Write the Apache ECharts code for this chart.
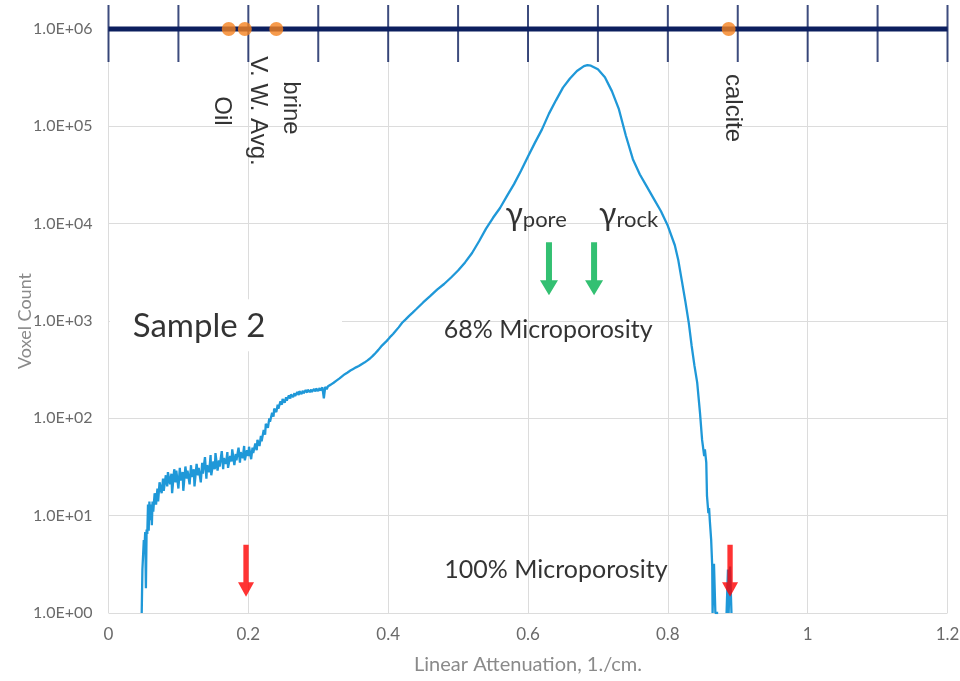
<!DOCTYPE html>
<html>
<head>
<meta charset="utf-8">
<script src="https://cdn.jsdelivr.net/npm/echarts@6/dist/echarts.min.js"></script>
<style>
html,body{margin:0;padding:0;background:#fff;}
#chart{width:960px;height:681px;}
</style>
</head>
<body>
<div id="chart"></div>
<script>
// ---------- data ----------
// histogram: [linear attenuation (1/cm), voxel count]
const histogram = [
[0.0475,1],[0.0485,2.8],[0.0495,2.7],[0.0505,5.6],[0.0515,4.8],[0.0525,6.8],[0.0535,1.8],[0.0545,7.2],[0.0555,6.5],[0.0565,13],[0.0575,7],[0.0585,14],[0.0595,9],
[0.061,13],[0.062,8],[0.063,14],[0.064,11],[0.066,17],[0.068,13],[0.070,19],[0.071,14],[0.073,22],[0.076,17],[0.078,24],[0.079,18],
[0.082,26],[0.084,20],[0.085,28],[0.088,21],[0.090,27],[0.091,17],[0.094,30],[0.096,22],[0.097,29],[0.100,19],
[0.102,31],[0.103,23],[0.106,28],[0.107,18],[0.110,32],[0.112,24],[0.113,29],[0.116,21],[0.118,33],[0.119,25],
[0.122,30],[0.123,20],[0.126,34],[0.128,26],[0.129,31],[0.132,22],[0.134,35],[0.135,27],[0.138,40],[0.140,24],
[0.141,33],[0.144,28],[0.146,42],[0.147,26],[0.150,36],[0.152,30],[0.153,44],[0.156,29],[0.158,37],[0.159,32],
[0.162,46],[0.164,30],[0.165,39],[0.168,34],[0.170,45],[0.171,31],[0.174,41],[0.176,36],[0.177,48],[0.180,33],
[0.182,43],[0.183,37],[0.186,50],[0.188,35],[0.189,45],[0.192,39],[0.194,52],[0.195,37],[0.198,47],[0.200,41],
[0.201,51],[0.204,38],[0.206,50],[0.207,44],[0.210,55],[0.212,47],[0.213,60],[0.216,52],[0.218,66],[0.219,58],
[0.222,76],[0.224,68],[0.225,88],[0.228,80],[0.230,100],[0.231,92],[0.234,114],[0.236,104],[0.237,126],[0.240,116],
[0.242,138],[0.243,126],[0.246,150],[0.248,138],[0.249,158],[0.252,145],[0.254,165],[0.255,152],[0.258,172],[0.260,160],
[0.261,176],[0.264,165],[0.266,181],[0.267,170],[0.270,186],[0.272,174],[0.273,190],[0.276,178],[0.278,192],[0.279,181],
[0.282,195],[0.284,184],[0.285,197],[0.288,186],[0.290,198],[0.291,187],[0.294,200],[0.296,189],[0.297,203],[0.300,191],
[0.302,205],[0.303,193],[0.306,208],[0.308,160],[0.310,210],[0.312,199],[0.314,214],[0.316,205],[0.318,222],[0.320,212],
[0.322,232],[0.324,222],[0.326,244],[0.328,233],[0.330,256],[0.332,246],[0.334,270],[0.336,259],[0.338,284],[0.340,272],
[0.342,296],[0.344,287],[0.346,310],[0.348,300],[0.350,322],[0.352,312],[0.354,334],[0.356,326],[0.358,345],[0.360,338],
[0.362,360],[0.364,352],[0.366,374],[0.368,366],[0.370,392],[0.372,384],[0.374,412],[0.376,404],[0.378,438],[0.380,448],
[0.382,470],[0.384,462],[0.386,505],[0.388,522],[0.390,548],[0.392,570],[0.394,586],[0.396,604],[0.398,625],[0.401,660],
[0.404,700],[0.407,735],[0.41,780],[0.415,860],[0.42,960],[0.425,1040],[0.43,1130],[0.435,1220],[0.44,1320],[0.45,1550],
[0.46,1800],[0.47,2100],[0.48,2400],[0.49,2800],[0.50,3300],[0.51,4000],[0.52,5000],[0.53,6600],[0.54,8900],[0.55,11500],
[0.56,14500],[0.57,19300],[0.58,25500],[0.59,35000],[0.60,49000],[0.61,68000],[0.62,93000],[0.63,135000],[0.64,185000],
[0.65,250000],[0.66,310000],[0.67,370000],[0.68,415000],[0.685,425000],[0.69,420000],[0.70,385000],[0.71,320000],[0.72,230000],
[0.73,150000],[0.74,80000],[0.75,46000],[0.76,32000],[0.77,24000],[0.78,18000],[0.79,13500],[0.80,9500],[0.81,6000],
[0.815,4200],[0.82,2600],[0.825,1600],[0.83,950],[0.834,560],[0.838,350],[0.842,233],[0.846,114],[0.849,60],[0.852,41],
[0.853,48],[0.855,35],[0.856,16],[0.858,10.6],[0.859,12],[0.860,9],[0.862,5.6],[0.8635,3],[0.864,1],[0.866,3.2],
[0.868,1],[0.872,1],[0.876,'-'],[0.884,1],[0.886,2.8],[0.887,1],[0.889,3],[0.891,1],[0.892,'-']
];

// reference phases on the top scale
const phaseNames = ['Oil', 'V. W. Avg.', 'brine', 'calcite'];
const phaseAttenuation = [0.172, 0.195, 0.24, 0.887];
const topScaleCount = 1e6;
const topScaleTicks = [0,0.1,0.2,0.3,0.4,0.5,0.6,0.7,0.8,0.9,1.0,1.1,1.2];

// arrows
const greenArrowAttenuation = [0.630, 0.6945];
const greenArrowCount = 3450;
const redArrowAttenuation = [0.1967, 0.889];
const redArrowCount = 2.71;

// text notes
const gammaSubs = ['pore', 'rock'];
const gammaAttenuation = [0.6116, 0.7439];
const gammaCount = 12300;
const noteTexts = ['Sample 2', '68% Microporosity', '100% Microporosity'];
const noteAttenuation = [0.1295, 0.6288, 0.640];
const noteCount = [881, 802, 2.77];

// axis text
const xAxisTitle = 'Linear Attenuation, 1./cm.';
const yAxisTitle = 'Voxel Count';

// ---------- chart ----------
const chart = echarts.init(document.getElementById('chart'), null, {renderer: 'canvas'});
const navy = '#0c1f5e';
// offsets are given in the rotated label frame: [down along text, left]
const phaseLabelOffsets = [[82, 7], [82, -13], [79, -14], [79, -4]];
const arrowPath = 'path://M6,0L12,0L12,38L18,38L9,53L0,38L6,38Z';

const option = {
  animation: false,
  backgroundColor: '#fff',
  grid: {left: 108.5, right: 12.5, top: 29, bottom: 68, containLabel: false, outerBoundsMode: 'none'},
  xAxis: {
    type: 'value', min: 0, max: 1.2, interval: 0.2,
    name: xAxisTitle, nameLocation: 'middle', nameGap: 42, nameMoveOverlap: false,
    nameTextStyle: {color: '#8a8a8a', fontSize: 20, fontFamily: 'Lato'},
    axisLine: {show: false},
    axisTick: {show: false},
    axisLabel: {color: '#6a6a6a', fontSize: 17, fontFamily: 'Lato', margin: 13},
    splitLine: {show: true, lineStyle: {color: '#dcdcdc', width: 1}}
  },
  yAxis: {
    type: 'log', logBase: 10, min: 1, max: 1e6, splitNumber: 6,
    name: yAxisTitle, nameLocation: 'middle', nameGap: 74, nameMoveOverlap: false,
    nameTextStyle: {color: '#8a8a8a', fontSize: 18, fontFamily: 'Lato'},
    axisLine: {show: false},
    axisTick: {show: false},
    axisLabel: {
      color: '#6a6a6a', fontSize: 16, fontFamily: 'Lato', margin: 16,
      formatter: v => '1.0E+' + String(Math.round(Math.log10(v))).padStart(2, '0')
    },
    splitLine: {show: true, lineStyle: {color: '#dcdcdc', width: 1}}
  },
  series: [
    {
      name: 'histogram', type: 'line', data: histogram, showSymbol: false,
      lineStyle: {color: '#1f98d8', width: 2.3}, z: 3, connectNulls: false
    },
    {
      name: 'topScale', type: 'line',
      data: [[topScaleTicks[0], topScaleCount], [topScaleTicks[topScaleTicks.length - 1], topScaleCount]],
      showSymbol: false, lineStyle: {color: navy, width: 5}, z: 4, clip: false
    },
    {
      name: 'topTicks', type: 'scatter', data: topScaleTicks.map(t => [t, topScaleCount]),
      symbol: 'rect', symbolSize: [2, 57], symbolOffset: [0, 4.5],
      itemStyle: {color: navy}, z: 4, clip: false, silent: true
    },
    {
      name: 'phases', type: 'scatter', clip: false, z: 5,
      data: phaseNames.map((n, i) => ({
        name: n, value: [phaseAttenuation[i], topScaleCount],
        label: {offset: phaseLabelOffsets[i]}
      })),
      symbol: 'circle', symbolSize: 14, itemStyle: {color: '#f5821f'},
      label: {
        show: true, position: 'inside', rotate: -90, formatter: p => p.name,
        color: '#000', fontSize: 24, fontFamily: 'Liberation Sans',
        align: 'center', verticalAlign: 'middle'
      }
    },
    {
      name: 'greenArrows', type: 'scatter', z: 5,
      data: greenArrowAttenuation.map(x => [x, greenArrowCount]),
      symbol: arrowPath, symbolSize: [18, 53], symbolKeepAspect: false,
      itemStyle: {color: '#00b04f'}
    },
    {
      name: 'redArrows', type: 'scatter', z: 5, clip: false,
      data: redArrowAttenuation.map(x => [x, redArrowCount]),
      symbol: arrowPath, symbolSize: [16, 52], symbolKeepAspect: false,
      itemStyle: {color: '#ff0000'}
    },
    {
      name: 'gammas', type: 'scatter', z: 6, symbolSize: 0,
      data: gammaSubs.map((s, i) => ({name: s, value: [gammaAttenuation[i], gammaCount]})),
      label: {
        show: true, position: 'inside', align: 'center', verticalAlign: 'middle',
        formatter: p => '{g|γ}{s|' + p.name + '}',
        rich: {
          g: {fontSize: 32, fontFamily: 'Lato', color: '#000', lineHeight: 36},
          s: {fontSize: 22, fontFamily: 'Lato', color: '#000', lineHeight: 36, padding: [10, 0, 0, 0]}
        }
      }
    },
    {
      name: 'notes', type: 'scatter', z: 6, symbolSize: 0,
      data: noteTexts.map((t, i) => ({name: t, value: [noteAttenuation[i], noteCount[i]]})),
      label: {
        show: true, position: 'inside', align: 'center', verticalAlign: 'middle',
        formatter: p => p.name, color: '#000', fontFamily: 'Lato', fontSize: 25
      },
      markArea: {
        silent: true, z: 1,
        itemStyle: {color: '#ffffff'},
        data: [[{coord: [0.002, 1670]}, {coord: [0.334, 488]}]]
      }
    }
  ]
};
// bigger font for the sample label
option.series[7].data[0].label = {fontSize: 33};
chart.setOption(option);
</script>
</body>
</html>
